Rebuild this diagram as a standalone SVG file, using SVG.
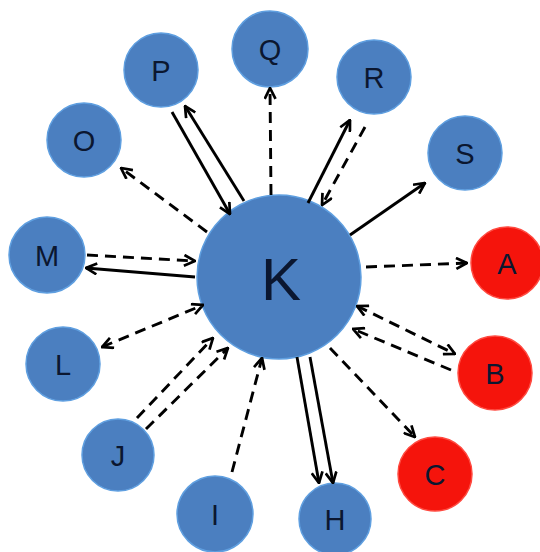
<svg xmlns="http://www.w3.org/2000/svg" width="540" height="552" viewBox="0 0 540 552">
  <style>
    .blue { fill: #4b7fc0; stroke: #5f9fe0; stroke-width: 1.5; }
    .red { fill: #f5140c; stroke: #ff4a40; stroke-width: 1.5; }
    .lbl { font-family: "Liberation Sans", Arial, sans-serif; font-size: 29px; fill: #0b1730; text-anchor: middle; dominant-baseline: central; }
    .big { font-size: 60px; }
    .edge { stroke: #000; stroke-width: 2.9; fill: none; }
    .dash { stroke-dasharray: 11 7; }
  </style>
  <defs>
    <marker id="arrow" viewBox="0 0 12 12" refX="11" refY="6" markerWidth="13" markerHeight="13" markerUnits="userSpaceOnUse" orient="auto-start-reverse">
      <path d="M1,1 L11,6 L1,11" fill="none" stroke="#000" stroke-width="2.5"/>
    </marker>
  </defs>
  <rect width="540" height="552" fill="#fff"/>

  <g id="node-K"><circle class="blue" cx="279" cy="277" r="82"/><text class="lbl big" x="281" y="279">K</text></g>
  <g id="node-O"><circle class="blue" cx="84" cy="140" r="37"/><text class="lbl" x="84" y="141">O</text></g>
  <g id="node-P"><circle class="blue" cx="161" cy="70" r="37"/><text class="lbl" x="161" y="71">P</text></g>
  <g id="node-Q"><circle class="blue" cx="270" cy="49" r="38"/><text class="lbl" x="270" y="50">Q</text></g>
  <g id="node-R"><circle class="blue" cx="374" cy="77" r="37"/><text class="lbl" x="374" y="78">R</text></g>
  <g id="node-S"><circle class="blue" cx="465" cy="153" r="37"/><text class="lbl" x="465" y="154">S</text></g>
  <g id="node-A"><circle class="red" cx="507" cy="263" r="36"/><text class="lbl" x="507" y="264">A</text></g>
  <g id="node-B"><circle class="red" cx="495" cy="373" r="37"/><text class="lbl" x="495" y="374">B</text></g>
  <g id="node-C"><circle class="red" cx="435" cy="474" r="37"/><text class="lbl" x="435" y="475">C</text></g>
  <g id="node-H"><circle class="blue" cx="335" cy="519" r="36"/><text class="lbl" x="335" y="520">H</text></g>
  <g id="node-I"><circle class="blue" cx="215" cy="514" r="38"/><text class="lbl" x="215" y="515">I</text></g>
  <g id="node-J"><circle class="blue" cx="118" cy="455" r="36"/><text class="lbl" x="118" y="456">J</text></g>
  <g id="node-L"><circle class="blue" cx="63" cy="364" r="37"/><text class="lbl" x="63" y="365">L</text></g>
  <g id="node-M"><circle class="blue" cx="47" cy="255" r="38"/><text class="lbl" x="47" y="256">M</text></g>

  <g id="connectors">
    <line class="edge dash" x1="207" y1="232" x2="121" y2="168" marker-end="url(#arrow)"/>
    <line class="edge" x1="172" y1="112" x2="230" y2="214" marker-end="url(#arrow)"/>
    <line class="edge" x1="244" y1="201" x2="185" y2="106" marker-end="url(#arrow)"/>
    <line class="edge dash" x1="271" y1="195" x2="270" y2="88" marker-end="url(#arrow)"/>
    <line class="edge" x1="308" y1="203" x2="350" y2="120" marker-end="url(#arrow)"/>
    <line class="edge dash" x1="365" y1="127" x2="322" y2="205" marker-end="url(#arrow)"/>
    <line class="edge" x1="350" y1="235" x2="425" y2="183" marker-end="url(#arrow)"/>
    <line class="edge dash" x1="366" y1="267" x2="467" y2="263" marker-end="url(#arrow)"/>
    <line class="edge dash" x1="357" y1="306" x2="455" y2="354" marker-start="url(#arrow)" marker-end="url(#arrow)"/>
    <line class="edge dash" x1="451" y1="370" x2="353" y2="329" marker-end="url(#arrow)"/>
    <line class="edge dash" x1="330" y1="348" x2="415" y2="437" marker-end="url(#arrow)"/>
    <line class="edge" x1="297" y1="357" x2="319" y2="483" marker-end="url(#arrow)"/>
    <line class="edge" x1="310" y1="357" x2="333" y2="483" marker-end="url(#arrow)"/>
    <line class="edge dash" x1="232" y1="472" x2="262" y2="358" marker-end="url(#arrow)"/>
    <line class="edge dash" x1="137" y1="418" x2="213" y2="338" marker-end="url(#arrow)"/>
    <line class="edge dash" x1="146" y1="429" x2="228" y2="348" marker-end="url(#arrow)"/>
    <line class="edge dash" x1="102" y1="347" x2="203" y2="305" marker-start="url(#arrow)" marker-end="url(#arrow)"/>
    <line class="edge dash" x1="87" y1="255" x2="195" y2="261" marker-end="url(#arrow)"/>
    <line class="edge" x1="195" y1="277" x2="86" y2="268" marker-end="url(#arrow)"/>
  </g>
</svg>
